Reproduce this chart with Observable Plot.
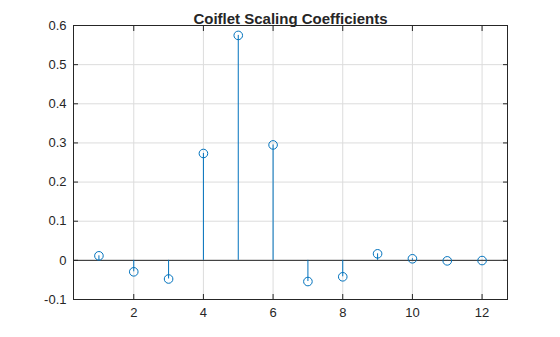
<!DOCTYPE html>
<html><head><meta charset="utf-8">
<script src="https://cdn.jsdelivr.net/npm/d3@7"></script>
<script src="https://cdn.jsdelivr.net/npm/@observablehq/plot@0.6"></script>
<style>body{margin:0;background:#fff;} svg{font-family:"Liberation Sans",Arial,sans-serif;}</style>
</head><body><div id="chart"></div>
<script>
const titleText = "Coiflet Scaling Coefficients";
const index = [1,2,3,4,5,6,7,8,9,10,11,12];
const coeffs = [0.0116,-0.0293,-0.0476,0.2730,0.5747,0.2949,-0.0541,-0.0420,0.0167,0.0040,-0.0013,-0.0005];
const xTicks = [2,4,6,8,10,12];
const yTicks = [-0.1,0,0.1,0.2,0.3,0.4,0.5,0.6];
const data = index.map((n,i)=>({n, v: coeffs[i]}));
const blue = "#0072BD", axisC = "#262626";
const chart = Plot.plot({
  width: 560, height: 337,
  marginLeft: 73, marginRight: 53, marginTop: 25, marginBottom: 38,
  style: {fontSize: "13px", fontFamily: '"Liberation Sans", Arial, sans-serif', color: axisC, background: "white"},
  x: {domain: [0.27, 12.73], ticks: xTicks, label: null},
  y: {domain: [-0.1, 0.6], ticks: yTicks, label: null},
  marks: [
    Plot.gridX(xTicks, {stroke: "#dcdcdc", strokeOpacity: 1}),
    Plot.gridY(yTicks, {stroke: "#dcdcdc", strokeOpacity: 1}),
    Plot.ruleY([0], {stroke: axisC}),
    Plot.ruleX(data, {x: "n", y1: 0, y2: "v", stroke: blue, strokeWidth: 1}),
    Plot.dot(data, {x: "n", y: "v", r: 4.3, stroke: blue, fill: "none", strokeWidth: 1}),
    Plot.axisX(xTicks, {anchor: "bottom", tickSize: -5, tickPadding: 13, stroke: axisC, fill: axisC, tickFormat: d => String(d)}),
    Plot.axisX(xTicks, {anchor: "top", tickSize: -5, tickFormat: () => "", label: null, stroke: axisC}),
    Plot.axisY(yTicks, {anchor: "left", tickSize: -5, tickPadding: 12, stroke: axisC, fill: axisC, tickFormat: d => d === 0 ? "0" : d.toFixed(1)}),
    Plot.axisY(yTicks, {anchor: "right", tickSize: -5, tickFormat: () => "", label: null, stroke: axisC}),
    Plot.frame({stroke: axisC}),
    Plot.text([titleText], {frameAnchor: "top", dy: -12, fontWeight: "bold", fontSize: 15, fill: axisC})
  ]
});
document.getElementById("chart").appendChild(chart);
</script></body></html>
